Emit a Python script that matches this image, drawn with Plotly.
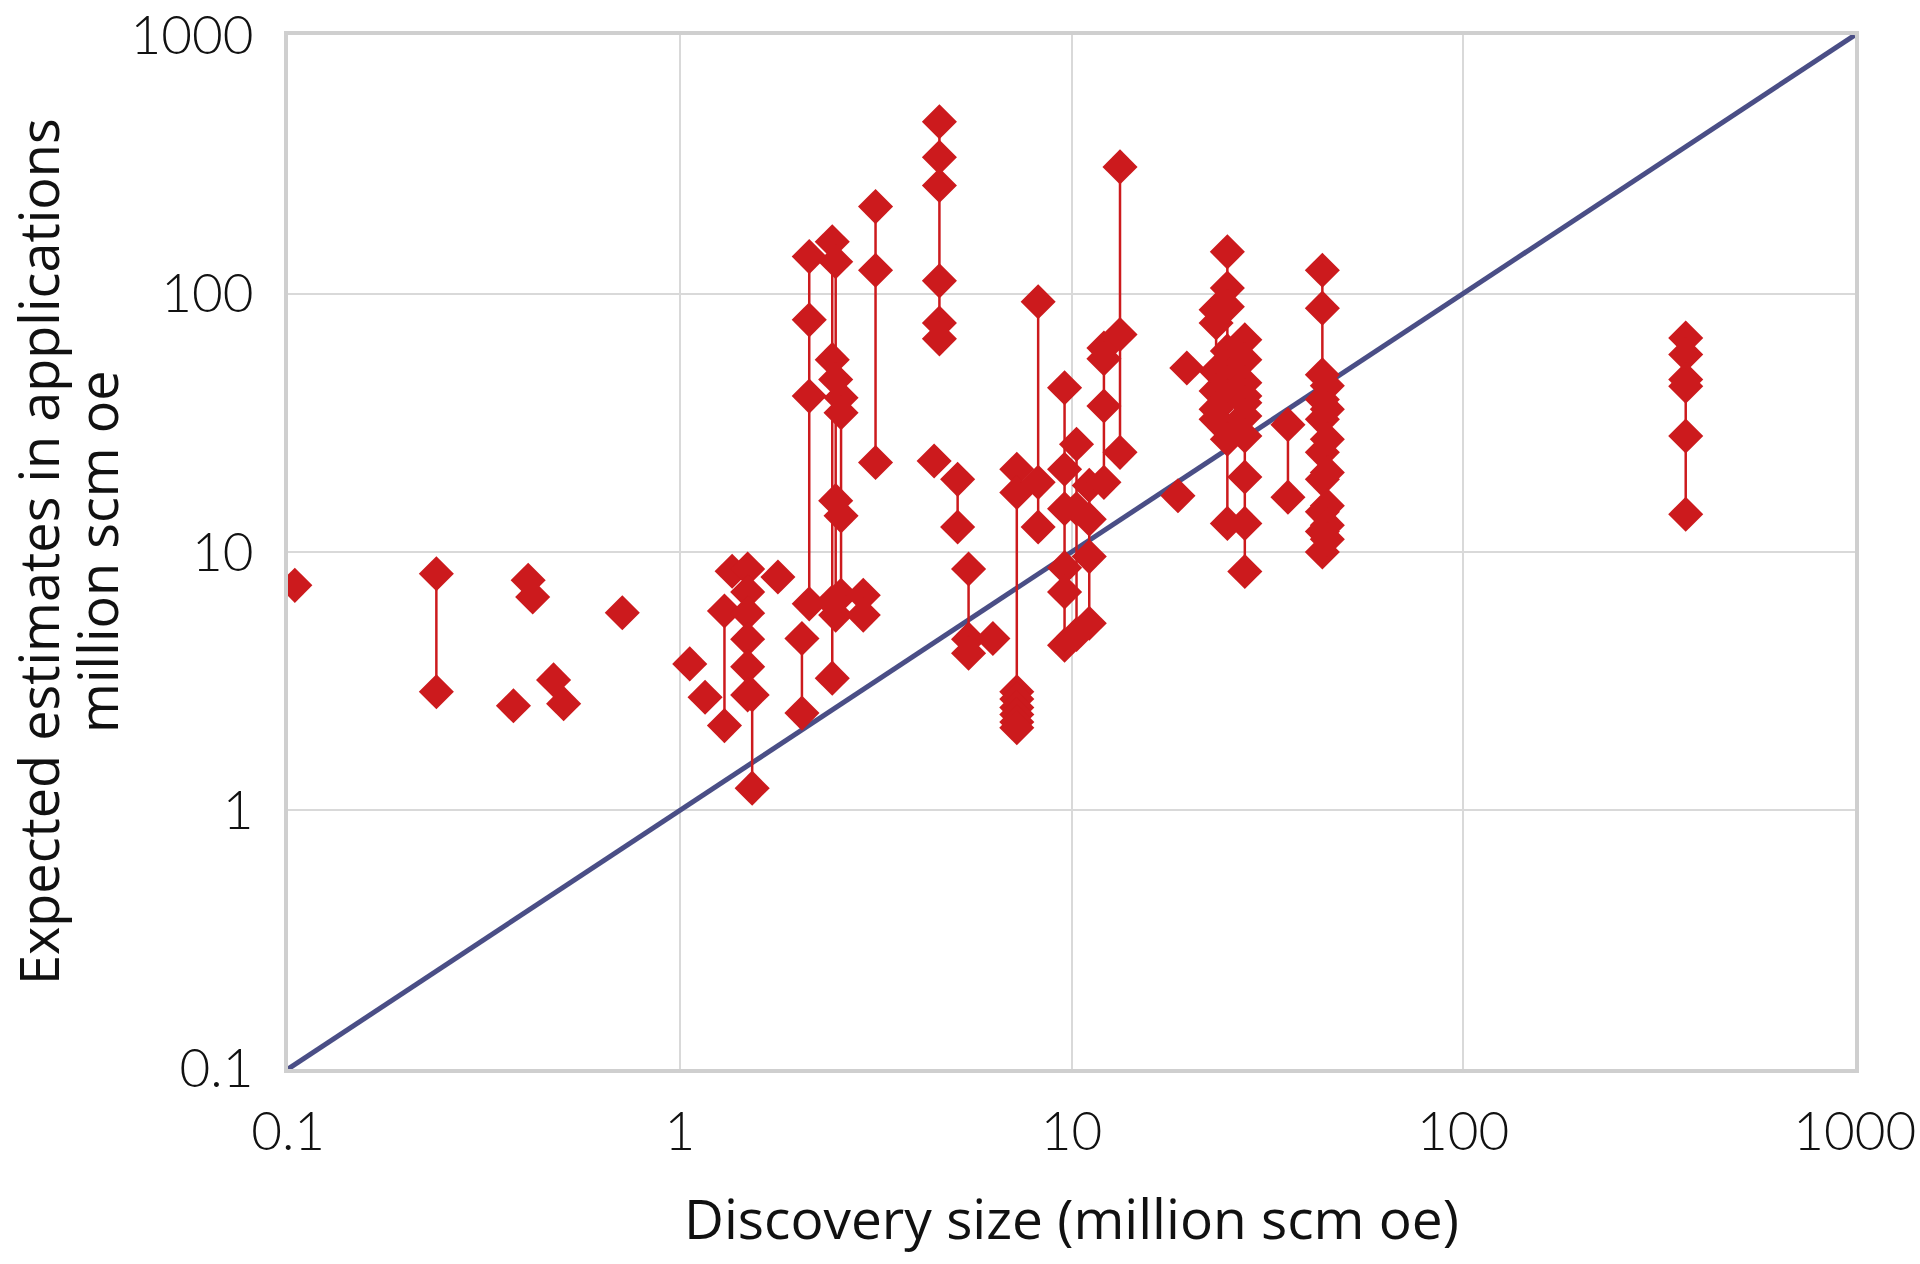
import plotly.graph_objects as go

# ---- data ----
# discovery size (million scm oe) for each discovery
disc_size = [0.104, 0.239, 0.376, 0.410, 0.421, 0.476, 0.505, 0.713, 1.06, 1.16,
             1.30, 1.36, 1.49, 1.53, 1.78, 2.05, 2.14, 2.45, 2.50, 2.58,
             2.94, 3.16, 4.46, 4.60, 5.12, 5.46, 6.30, 7.25, 8.22, 9.6,
             10.3, 11.1, 12.1, 13.3, 18.7, 19.7, 23.4, 25.0, 27.7, 35.7,
             43.7, 45.0, 370]
# expected estimates in applications for each discovery (million scm oe)
estimates = [
    [7.43], [8.24, 2.88], [2.54], [7.78], [6.70], [3.20], [2.59], [5.82], [3.69], [2.74],
    [5.91, 2.13], [8.42], [8.6, 7.0, 5.8, 4.6, 3.6, 2.8], [2.8, 1.22], [8.0],
    [4.63, 2.38], [139, 79.1, 40.1, 6.3], [158.6, 55.5, 6.4, 3.25],
    [132.7, 46.5, 15.8, 5.7], [39.5, 34.6, 13.8, 6.8],
    [6.8, 5.7], [217, 123, 22.2], [22.5], [462, 337, 262, 112, 76.9, 66.8],
    [19.1, 12.5], [8.6, 4.6, 4.06], [4.63],
    [20.9, 17.0, 2.88, 2.7, 2.5, 2.35, 2.2, 2.09], [93, 18.6, 12.5],
    [43.2, 20.9, 14.7, 8.7, 7.0, 4.36],
    [26.1, 14.7, 4.8], [18.1, 13.4, 9.6, 5.3], [61.5, 56, 36.7, 18.6], [309, 69.4, 24.3],
    [16.5], [51.5], [86.5, 76.9, 50, 42, 35.7, 32.6],
    [145, 105, 89, 60, 52, 45.2, 40, 29.8, 27.3, 12.9],
    [66.2, 55.5, 45.2, 40.1, 37.8, 33.6, 28.1, 19.5, 12.9, 8.4], [31.1, 16.3],
    [123, 87.8, 48.5, 38.9, 32.6, 24.3, 19.1, 14.3, 12.0, 10.0],
    [44, 35.7, 27.3, 20.3, 15.1, 12.7, 11.2],
    [67.3, 58.1, 46.5, 43.8, 28.1, 14.0],
]
# 1:1 reference line
diag_x = [0.1, 1000]
diag_y = [0.1, 1000]

tick_vals = [0.1, 1, 10, 100, 1000]
tick_text = ["0.1", "1", "10", "100", "1000"]

x_title = "Discovery size (million scm oe)"
y_title_lines = ["Expected estimates in applications", "million scm oe"]

# ---- build traces ----
xs, ys = [], []
for sx, vals in zip(disc_size, estimates):
    for v in sorted(vals, reverse=True):
        xs.append(sx)
        ys.append(v)
    xs.append(None)
    ys.append(None)

RED = "#CC1A1D"
fig = go.Figure()
fig.add_trace(go.Scatter(x=diag_x, y=diag_y, mode="lines",
                         line=dict(color="#4A4E86", width=5),
                         hoverinfo="skip", showlegend=False))
fig.add_trace(go.Scatter(x=xs, y=ys, mode="lines+markers", connectgaps=False,
                         line=dict(color=RED, width=2.5),
                         marker=dict(symbol="diamond", size=27, color=RED,
                                     line=dict(width=0)),
                         showlegend=False))

tick_font = dict(family="Lato, Open Sans, sans-serif", size=53, color="#111111", weight=300)
title_font = dict(family="Open Sans, Noto Sans, sans-serif", size=54, color="#111111")
xtitle_font = dict(family="Open Sans, Noto Sans, sans-serif", size=55, color="#111111")

axis_common = dict(
    type="log", range=[-1.0004, 3.0004],
    tickvals=tick_vals, ticktext=tick_text,
    showgrid=True, gridcolor="#D9D9D9", gridwidth=2,
    showline=True, linecolor="#CFCFCF", linewidth=4, mirror=True,
    ticks="outside", tickcolor="rgba(0,0,0,0)",
    tickfont=tick_font, zeroline=False, ticklabeloverflow="allow",
    automargin=False,
)

W, H = 1920, 1264
ML, MR, MT, MB = 288, 65, 35, 195
PW = W - ML - MR

fig.update_layout(
    width=W, height=H,
    margin=dict(l=ML, r=MR, t=MT, b=MB),
    paper_bgcolor="white", plot_bgcolor="white",
    xaxis=dict(**axis_common, ticklen=13,
               title=dict(text=x_title, font=xtitle_font, standoff=42)),
    yaxis=dict(**axis_common, ticklen=20),
)

# two-line rotated y-axis title (line centres at x = 38 px and 97 px)
for text, px in zip(y_title_lines, [38, 97]):
    fig.add_annotation(text=text, textangle=-90, showarrow=False,
                       xref="paper", yref="paper",
                       x=(px - ML) / PW, y=0.5,
                       xanchor="center", yanchor="middle",
                       font=title_font)

fig.write_html("out.html", config={"displayModeBar": False},
               post_script="document.body.style.margin='0';")
